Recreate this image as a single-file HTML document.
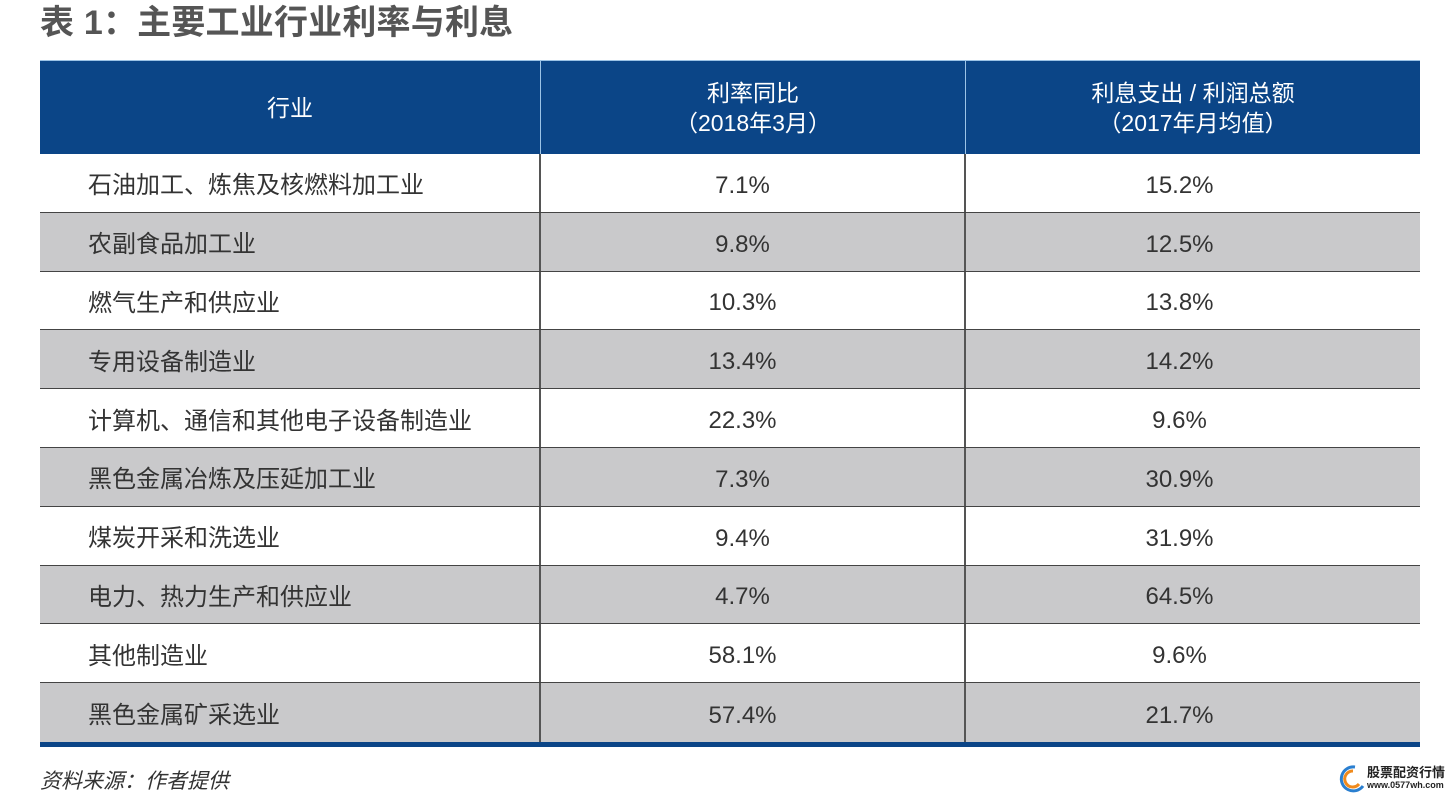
<!DOCTYPE html>
<html><head><meta charset="utf-8"><style>
body{margin:0;width:1454px;height:798px;background:#fff;position:relative;overflow:hidden;font-family:"Liberation Sans","Noto Sans CJK SC",sans-serif;}
.abs{position:absolute;}
#title{left:40px;top:1px;font-size:34px;font-weight:bold;color:#555;line-height:44px;letter-spacing:0.2px;}
#hdr{left:40px;top:60px;width:1380px;height:94px;background:#0b4587;border-top:1px solid #9cc3e6;box-sizing:border-box;}
.hc{position:absolute;top:0;height:94px;display:flex;align-items:center;justify-content:center;text-align:center;color:#fff;font-size:23px;line-height:30px;}
.row{position:absolute;left:40px;width:1380px;border-bottom:1.5px solid #444;box-sizing:border-box;}
.c{position:absolute;top:3px;height:100%;display:flex;align-items:center;font-size:24px;color:#333;}
.vl{position:absolute;width:1.5px;background:#555;}
#foot{left:40px;top:765px;font-size:21px;font-style:italic;color:#333;}
</style></head><body>
<div class="abs" id="title">表 1：主要工业行业利率与利息</div>
<div class="abs" id="hdr">
<div class="hc" style="left:0;width:500px">行业</div>
<div class="hc" style="left:500px;width:425px;border-left:1.5px solid #9cc3e6;box-sizing:border-box">利率同比<br>（2018年3月）</div>
<div class="hc" style="left:925px;width:455px;border-left:1.5px solid #9cc3e6;box-sizing:border-box">利息支出 / 利润总额<br>（2017年月均值）</div>
</div>
<div id="rows"></div>
<div class="abs" style="left:40px;top:742px;width:1380px;height:5px;background:#0b4587"></div>
<div class="abs" id="foot">资料来源：作者提供</div>
<div class="abs" style="left:1335px;top:762px;width:120px;height:36px">
<svg width="30" height="30" style="position:absolute;left:2px;top:2px"><path d="M18 3 A12 12 0 1 0 26 22" stroke="#2a7fd0" stroke-width="3" fill="none"/><path d="M16 7 A8 8 0 1 0 22 20" stroke="#f08a1c" stroke-width="3" fill="none"/></svg>
<div style="position:absolute;left:32px;top:0;font-size:13px;font-weight:bold;color:#222">股票配资行情</div>
<div style="position:absolute;left:32px;top:18px;font-size:9px;font-weight:bold;color:#222">www.0577wh.com</div>
</div>
<script>
const industries=["石油加工、炼焦及核燃料加工业","农副食品加工业","燃气生产和供应业","专用设备制造业","计算机、通信和其他电子设备制造业","黑色金属冶炼及压延加工业","煤炭开采和洗选业","电力、热力生产和供应业","其他制造业","黑色金属矿采选业"];
const rateYoy=["7.1%","9.8%","10.3%","13.4%","22.3%","7.3%","9.4%","4.7%","58.1%","57.4%"];
const interestRatio=["15.2%","12.5%","13.8%","14.2%","9.6%","30.9%","31.9%","64.5%","9.6%","21.7%"];
const wrap=document.getElementById('rows');
const top0=154,rh=58.8;
industries.forEach((name,i)=>{
  const r=document.createElement('div');
  r.className='row';
  
  
  r.style.top=(top0+i*rh)+'px';
  r.style.height=(i===industries.length-1?742-(top0+i*rh):rh)+'px';
  if(i===industries.length-1)r.style.borderBottom='none';
  r.style.background=i%2?'#c9c9cb':'#fff';
  const a=document.createElement('div');a.className='c';a.style.left='48px';a.style.top='0';a.textContent=name;
  
  
  const b=document.createElement('div');b.className='c';b.style.left='490px';b.style.width='425px';b.style.justifyContent='center';b.textContent=rateYoy[i];
  
  
  const c=document.createElement('div');c.className='c';c.style.left='912px';c.style.width='455px';c.style.justifyContent='center';c.textContent=interestRatio[i];
  
  
  const v1=document.createElement('div');v1.className='vl';v1.style.left='499px';v1.style.top='0';v1.style.height='100%';
  
  
  const v2=document.createElement('div');v2.className='vl';v2.style.left='924px';v2.style.top='0';v2.style.height='100%';
  
  
  r.append(a,b,c,v1,v2);
  wrap.appendChild(r);
});
</script>
</body></html>
